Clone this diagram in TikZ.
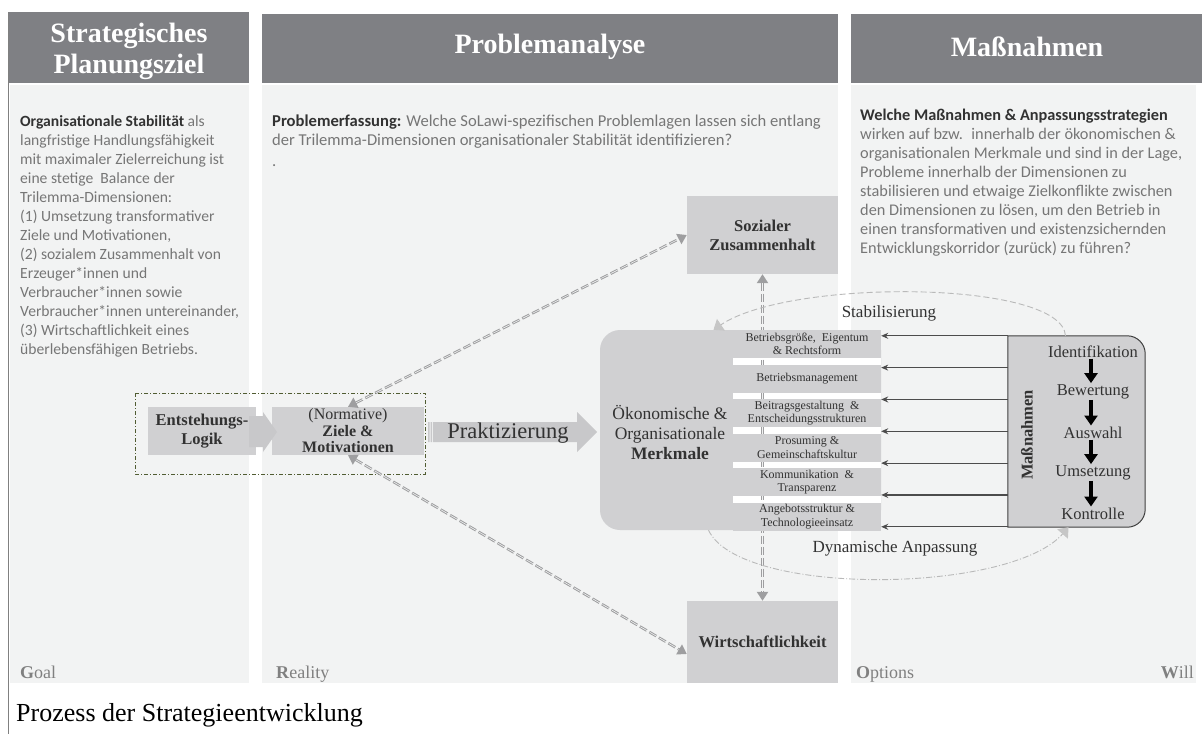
\documentclass[tikz,border=0pt]{standalone}
\usepackage{fontspec}
\setmainfont{Liberation Serif}
\newfontfamily\calfont{Carlito}
\usetikzlibrary{arrows.meta,calc}

\definecolor{hdrgrey}{RGB}{127,128,132}
\definecolor{panelgrey}{RGB}{242,243,243}
\definecolor{boxgrey}{RGB}{208,208,210}
\definecolor{arrowgrey}{RGB}{200,200,202}
\definecolor{txtgrey}{RGB}{118,118,118}
\definecolor{darktxt}{RGB}{50,50,50}
\definecolor{framegreen}{RGB}{80,92,50}
\definecolor{dashgrey}{RGB}{158,158,160}

\begin{document}
\begin{tikzpicture}[x=1pt,y=-1pt,
  hdr/.style={text=white,align=center,font=\fontsize{28}{31}\selectfont\bfseries},
  coltext/.style={anchor=north west,inner sep=0pt,align=left,text=txtgrey,font=\calfont\fontsize{16.3}{19}\selectfont},
  gbox/.style={fill=boxgrey,inner sep=0pt,align=center,text=darktxt},
  bar/.style={fill=boxgrey,minimum width=148,minimum height=28,inner sep=0pt,align=center,text=darktxt,font=\fontsize{12}{13.5}\selectfont},
  dimarrow/.style={draw=dashgrey,line width=2.6pt,dash pattern=on 8pt off 3pt,{Triangle[length=9pt,width=11pt]}-{Triangle[length=9pt,width=11pt]},
    postaction={draw=panelgrey,line width=0.6pt,dash pattern=on 8pt off 3pt,arrows=-,shorten <=9pt,shorten >=9pt}},
  sarrow/.style={draw=black!70,line width=1.1pt,-{Stealth[length=7pt,width=6pt]}},
  steparrow/.style={line width=3.2pt,shorten >=1pt,-{Triangle[length=10pt,width=13pt]}},
  loopline/.style={draw=gray!55,line width=0.9pt,-{Triangle[length=9pt,width=14pt,color=gray!45,fill=gray!45]}},
  corner/.style={anchor=base west,inner sep=0pt,text=gray,font=\fontsize{18}{18}\selectfont}
]
\useasboundingbox (0,0) rectangle (1202,734);
\fill[white] (0,0) rectangle (1202,734);

% columns
\fill[hdrgrey] (9,12) rectangle (249,83);
\fill[hdrgrey] (262,14) rectangle (838,83);
\fill[hdrgrey] (851,14) rectangle (1202,83);
\fill[panelgrey] (10,85) rectangle (249,683);
\fill[panelgrey] (262,85) rectangle (838,683);
\fill[panelgrey] (851,85) rectangle (1196,683);
\draw[gray,line width=1.5pt] (8.5,12) -- (8.5,734);

\node[hdr] (hd1) at (129,51) {Strategisches\\Planungsziel};
\node[hdr] (hd2) at (550,47) {Problemanalyse};
\node[hdr] (hd3) at (1027,47) {Maßnahmen};

\node[coltext,font=\calfont\fontsize{15.6}{19}\selectfont] (txt1) at (20,115) {\textcolor{darktxt}{\textbf{Organisationale Stabilität}} als\\
langfristige Handlungsfähigkeit\\
mit maximaler Zielerreichung ist\\
eine stetige~ Balance der\\
Trilemma-Dimensionen:\\
(1) Umsetzung transformativer\\
Ziele und Motivationen,\\
(2) sozialem Zusammenhalt von\\
Erzeuger*innen und\\
Verbraucher*innen sowie\\
Verbraucher*innen untereinander,\\
(3) Wirtschaftlichkeit eines\\
überlebensfähigen Betriebs.};

\node[coltext,font=\calfont\fontsize{16.6}{19}\selectfont] (txt2) at (272,115) {\textcolor{darktxt}{\textbf{Problemerfassung:}} Welche SoLawi-spezifischen Problemlagen lassen sich entlang\\
der Trilemma-Dimensionen organisationaler Stabilität identifizieren?\\[2pt]
.};

\node[coltext] (txt3) at (860,109) {\textcolor{darktxt}{\textbf{Welche Maßnahmen \& Anpassungsstrategien}}\\
wirken auf bzw.~ innerhalb der ökonomischen \&\\
organisationalen Merkmale und sind in der Lage,\\
Probleme innerhalb der Dimensionen zu\\
stabilisieren und etwaige Zielkonflikte zwischen\\
den Dimensionen zu lösen, um den Betrieb in\\
einen transformativen und existenzsichernden\\
Entwicklungskorridor (zurück) zu führen?};

% logic and goals
\draw[framegreen,line width=0.8pt,dash pattern=on 4pt off 2pt on 1pt off 2pt] (135,393) rectangle (425,474);
\node[gbox,minimum width=108,minimum height=48,font=\fontsize{16.5}{19}\selectfont\bfseries] (entst) at (202,431) {Entstehungs-\\Logik};
\node[gbox,minimum width=152,minimum height=48,font=\fontsize{16}{16.5}\selectfont] (ziele) at (348,431) {(Normative)\\\textbf{Ziele \&}\\\textbf{Motivationen}};
\fill[arrowgrey] (249,416) -- (263,416) -- (263,412) -- (277,432) -- (263,452) -- (263,447) -- (249,447) -- cycle;

% Praktizierung
\fill[arrowgrey] (428,422) rectangle (429.5,442) (430.5,422) rectangle (432,442);
\fill[arrowgrey] (433,422) -- (577,422) -- (577,412) -- (597,432) -- (577,452) -- (577,442) -- (433,442) -- cycle;
\node[font=\fontsize{22.5}{24}\selectfont,text=darktxt] (prakt) at (508,433) {Praktizierung};

% dimensions
\node[gbox,minimum width=151,minimum height=78,font=\fontsize{16.5}{19}\selectfont\bfseries] (sozial) at (762.5,235) {Sozialer\\Zusammenhalt};
\node[gbox,minimum width=151,minimum height=82,font=\fontsize{16.5}{19}\selectfont\bfseries] (wirt) at (762.5,642) {Wirtschaftlichkeit};

% Merkmale
\node[fill=boxgrey,rounded corners=20,minimum width=281,minimum height=200] (merk) at (740.5,430) {};
\node[align=center,text=darktxt,font=\fontsize{17.5}{20}\selectfont] (merktext) at (670,432) {Ökonomische \&\\Organisationale\\\textbf{Merkmale}};
\fill[white] (733,330) rectangle (881,531);

\draw[dimarrow] (ziele.north) -- (sozial.west);
\draw[dimarrow] (ziele.south) -- ([yshift=-12pt]wirt.west);
\draw[dimarrow] (sozial.south) -- (wirt.north);

\foreach \t [count=\i from 0] in {{Betriebsgröße,~ Eigentum\\\& Rechtsform},{Betriebsmanagement},{Beitragsgestaltung~ \&\\Entscheidungsstrukturen},{Prosuming \&\\Gemeinschaftskultur},{Kommunikation~ \&\\Transparenz},{Angebotsstruktur \&\\Technologieeinsatz}}
  \node[bar] (bar\i) at (807,{344+34.5*\i}) {\t};

% Massnahmen
\node[minimum width=137,minimum height=191,inner sep=0pt] (massn) at (1076.5,431.5) {};
\filldraw[fill=boxgrey,draw=black!75,line width=1pt] (massn.north west) -- ([xshift=-18pt]massn.north east) arc[start angle=-90,end angle=0,radius=18] -- ([yshift=18pt]massn.south east) arc[start angle=0,end angle=90,radius=18] -- (massn.south west) -- cycle;
\foreach \k in {0,...,6}
  \draw[sarrow] ($(massn.north west)+(0,31.83*\k)$) -- ($(merk.east |- massn.north)+(0,31.83*\k)$);

\node[rotate=90,text=darktxt,font=\fontsize{16.5}{16}\selectfont\bfseries] (mlabel) at (1027,435) {Maßnahmen};
\foreach \s/\y [count=\i] in {Identifikation/352,Bewertung/392,Auswahl/433,Umsetzung/473,Kontrolle/514}
  \node[text=darktxt,inner sep=0.5pt,font=\fontsize{16.5}{16}\selectfont] (step\i) at (1093,\y) {\s};
\foreach \a/\b in {1/2,2/3,3/4,4/5}
  \draw[steparrow] ([xshift=-2pt]step\a.south) -- ([xshift=-2pt]step\b.north);

% feedback loops
\draw[loopline,dash pattern=on 6pt off 3pt] ([xshift=-11pt]massn.north) .. controls (1062,280) and (790,278) .. ([xshift=-27pt]merk.north);
\draw[loopline,dash pattern=on 6pt off 2pt on 1pt off 2pt] ([xshift=-32pt]merk.south) .. controls (740,597) and (1010,594) .. ([xshift=-8pt]massn.south);
\node[text=darktxt,font=\fontsize{17}{17}\selectfont] (stablabel) at (889,313) {Stabilisierung};
\node[text=darktxt,font=\fontsize{17}{17}\selectfont] (dynlabel) at (895,548) {Dynamische Anpassung};

% GROW
\node[corner] (goal) at (20,678) {\textbf{G}oal};
\node[corner] (reality) at (276,678) {\textbf{R}eality};
\node[corner] (options) at (856,678) {\textbf{O}ptions};
\node[corner,anchor=base east] (will) at (1194,678) {\textbf{W}ill};

\node[anchor=base west,inner sep=0pt,font=\fontsize{26}{28}\selectfont] (title) at (16,721) {Prozess der Strategieentwicklung};
\end{tikzpicture}
\end{document}
